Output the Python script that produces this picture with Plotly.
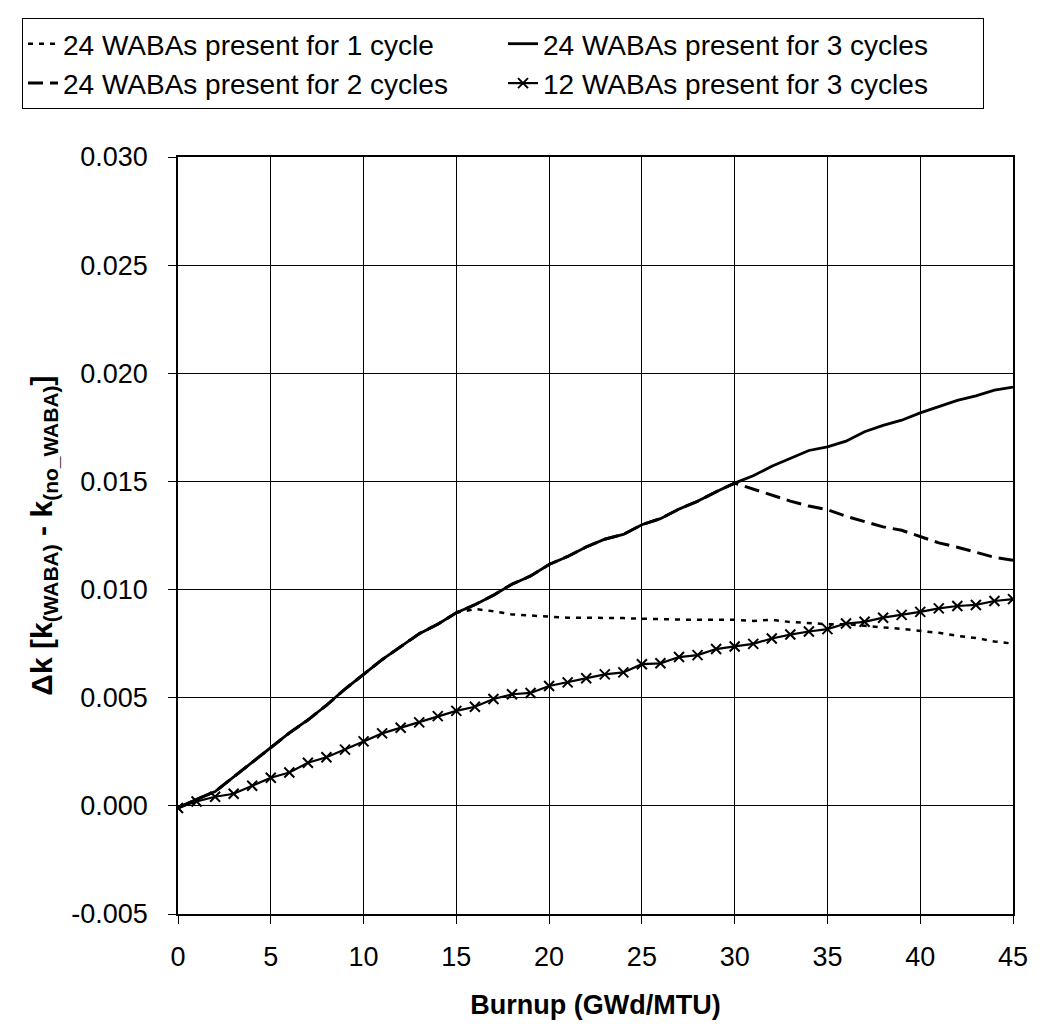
import plotly.graph_objects as go

# ---- data ----
burnup = list(range(0, 46))

k24_3cyc = [-0.0001, 0.0003, 0.00066, 0.00133, 0.00201, 0.00269, 0.00337, 0.00397, 0.00465, 0.0054,
            0.00608, 0.00676, 0.00736, 0.00796, 0.0084, 0.00893, 0.0093, 0.00974, 0.01025, 0.01063,
            0.01116, 0.01153, 0.01197, 0.01233, 0.01255, 0.0130, 0.01328, 0.01372, 0.01408, 0.01452,
            0.01492, 0.01526, 0.0157, 0.01607, 0.01643, 0.0166, 0.01686, 0.0173, 0.01759, 0.01783,
            0.01817, 0.01846, 0.01875, 0.01896, 0.01922, 0.01936]

# after removal at end of cycle 2 (burnup 31..45)
k24_2cyc_tail = [0.01464, 0.01438, 0.01409, 0.01386, 0.01369, 0.01339, 0.01315, 0.0129, 0.01274,
                 0.01245, 0.01216, 0.01196, 0.01174, 0.01149, 0.01135]

# after removal at end of cycle 1 (burnup 16..45)
k24_1cyc_tail = [0.0091, 0.0090, 0.00885, 0.0088, 0.00875, 0.0087, 0.0087, 0.0087, 0.00868, 0.00865,
                 0.00863, 0.0086, 0.0086, 0.0086, 0.0086, 0.00855, 0.0086, 0.0085, 0.00845, 0.0084,
                 0.0084, 0.00834, 0.00825, 0.00818, 0.0081, 0.0080, 0.00786, 0.00776, 0.0076, 0.0075]

k12_3cyc = [-0.0001, 0.0002, 0.00042, 0.00056, 0.00093, 0.0013, 0.00154, 0.00199, 0.00225, 0.0026,
            0.00298, 0.00335, 0.00361, 0.00386, 0.00415, 0.00439, 0.00458, 0.00494, 0.00516, 0.00522,
            0.00554, 0.00571, 0.0059, 0.00608, 0.00617, 0.00655, 0.00659, 0.00688, 0.00697, 0.00725,
            0.00737, 0.00749, 0.00774, 0.00792, 0.00806, 0.00817, 0.00843, 0.00851, 0.0087, 0.00883,
            0.00897, 0.00913, 0.00924, 0.00929, 0.00947, 0.00956]

series_names = ["24 WABAs present for 1 cycle", "24 WABAs present for 3 cycles",
                "24 WABAs present for 2 cycles", "12 WABAs present for 3 cycles"]

y_tickvals = [-0.005, 0.0, 0.005, 0.010, 0.015, 0.020, 0.025, 0.030]
y_ticktext = ["-0.005", "0.000", "0.005", "0.010", "0.015", "0.020", "0.025", "0.030"]
x_tickvals = [0, 5, 10, 15, 20, 25, 30, 35, 40, 45]

k24_1cyc = k24_3cyc[:16] + k24_1cyc_tail
k24_2cyc = k24_3cyc[:31] + k24_2cyc_tail

FONT = "Liberation Sans, Arial, Helvetica, sans-serif"

fig = go.Figure()
fig.add_trace(go.Scatter(x=burnup, y=k24_1cyc, mode="lines", name=series_names[0],
                         line=dict(color="black", width=2.5, dash="5px,6px")))
fig.add_trace(go.Scatter(x=burnup, y=k24_3cyc, mode="lines", name=series_names[1],
                         line=dict(color="black", width=2.8)))
fig.add_trace(go.Scatter(x=burnup, y=k24_2cyc, mode="lines", name=series_names[2],
                         line=dict(color="black", width=3, dash="15px,7px")))
fig.add_trace(go.Scatter(x=burnup, y=k12_3cyc, mode="lines+markers", name=series_names[3],
                         line=dict(color="black", width=2.2),
                         marker=dict(symbol="x-thin", size=10, color="black",
                                     line=dict(color="black", width=2))))

PLOT_T, PLOT_B, PLOT_L, PLOT_R = 157, 914, 178, 1013
W, H = 1056, 1036
PW, PH = PLOT_R - PLOT_L, PLOT_B - PLOT_T

fig.update_layout(
    width=W, height=H,
    paper_bgcolor="white", plot_bgcolor="white",
    margin=dict(l=PLOT_L, r=W - PLOT_R, t=PLOT_T, b=H - PLOT_B, autoexpand=False),
    font=dict(family=FONT, color="black", size=26),
    legend=dict(
        orientation="h", xref="paper", yref="paper",
        x=(22 - PLOT_L) / PW, y=1 + (PLOT_T - 18) / PH,
        xanchor="left", yanchor="top",
        font=dict(family=FONT, size=28, color="black"),
        bordercolor="black", borderwidth=1, bgcolor="white",
        entrywidth=435, entrywidthmode="pixels",
        tracegroupgap=0,
    ),
    showlegend=True,
)

fig.update_xaxes(
    range=[0, 45], tickvals=x_tickvals, ticks="outside", ticklen=8, tickcolor="black",
    showgrid=True, gridcolor="black", gridwidth=1.2,
    showline=True, linecolor="black", linewidth=1.5, mirror=True, zeroline=False,
    tickfont=dict(size=27), ticklabelstandoff=10,
    title=dict(text="<b>Burnup (GWd/MTU)</b>", font=dict(size=27), standoff=24),
)
fig.update_yaxes(
    range=[-0.005, 0.030], tickvals=y_tickvals,
    ticktext=[t + "\u00a0\u00a0" for t in y_ticktext],
    ticks="outside", ticklen=8, tickcolor="black",
    showgrid=True, gridcolor="black", gridwidth=1.2,
    showline=True, linecolor="black", linewidth=1.5, mirror=True, zeroline=False,
    tickfont=dict(size=27),
    title=dict(text="<b>Δk [k<sub>(WABA)</sub> - k<sub>(no_WABA)</sub>]</b>",
               font=dict(size=30), standoff=10),
)

fig.write_html("out.html")
